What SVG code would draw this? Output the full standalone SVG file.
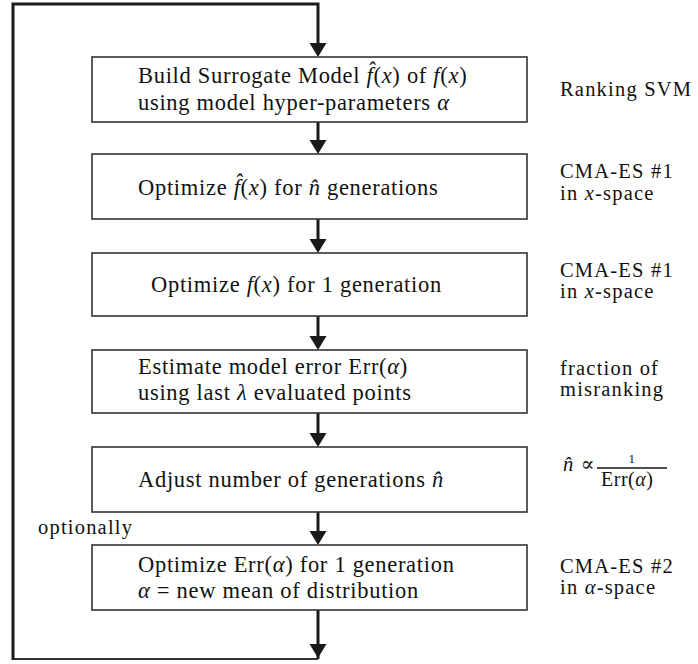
<svg xmlns="http://www.w3.org/2000/svg" width="698" height="664" viewBox="0 0 698 664">
<style>
text{font-family:"Liberation Serif","DejaVu Serif",serif;fill:#111}
.m{font-size:22.5px;letter-spacing:0.7px}
.r{font-size:20.5px;letter-spacing:1.2px}
.i{font-style:italic}
.box{fill:#fff;stroke:#333;stroke-width:1.6}
.ln{fill:none;stroke:#1a1a1a;stroke-width:3}
.hd{fill:#1a1a1a}
</style>
<defs>
<polygon id="ah" points="-8.5,-14 8.5,-14 0,0"/>
</defs>
<g id="connectors">
<path class="ln" d="M318,610 V659"/>
<path class="ln" d="M318,659 H13" style="stroke-width:2.2;stroke:#333"/>
<path class="ln" d="M13,660 V4 H318 V50" style="stroke-linejoin:miter"/>
<path class="ln" d="M318,122 V146"/>
<path class="ln" d="M318,219 V245"/>
<path class="ln" d="M318,316 V342"/>
<path class="ln" d="M318,413 V439"/>
<path class="ln" d="M318,512 V537"/>
<use href="#ah" class="hd" x="318" y="57"/>
<use href="#ah" class="hd" x="318" y="154"/>
<use href="#ah" class="hd" x="318" y="253"/>
<use href="#ah" class="hd" x="318" y="350"/>
<use href="#ah" class="hd" x="318" y="447"/>
<use href="#ah" class="hd" x="318" y="545"/>
<use href="#ah" class="hd" x="318" y="658"/>
</g>
<g id="n1">
<rect class="box" x="92" y="57" width="435" height="65"/>
<text class="m" x="138" y="83">Build Surrogate Model <tspan class="i">f̂</tspan>(<tspan class="i">x</tspan>) of <tspan class="i">f</tspan>(<tspan class="i">x</tspan>)<tspan x="138" y="110">using model hyper-parameters </tspan><tspan class="i">α</tspan></text>
</g>
<g id="n2">
<rect class="box" x="92" y="154" width="435" height="65"/>
<text class="m" x="138" y="195">Optimize <tspan class="i">f̂</tspan>(<tspan class="i">x</tspan>) for <tspan class="i">n̂</tspan> generations</text>
</g>
<g id="n3">
<rect class="box" x="92" y="253" width="435" height="63"/>
<text class="m" x="151" y="292">Optimize <tspan class="i">f</tspan>(<tspan class="i">x</tspan>) for 1 generation</text>
</g>
<g id="n4">
<rect class="box" x="92" y="350" width="435" height="63"/>
<text class="m" x="138" y="374">Estimate model error Err(<tspan class="i">α</tspan>)<tspan x="138" y="400">using last </tspan><tspan class="i">λ</tspan> evaluated points</text>
</g>
<g id="n5">
<rect class="box" x="92" y="447" width="435" height="65"/>
<text class="m" x="138" y="487">Adjust number of generations <tspan class="i">n̂</tspan></text>
</g>
<g id="n6">
<rect class="box" x="92" y="545" width="435" height="65"/>
<text class="m" x="138" y="572">Optimize Err(<tspan class="i">α</tspan>) for 1 generation<tspan x="138" y="598" class="i">α</tspan> = new mean of distribution</text>
</g>
<g id="labels">
<text class="r" x="38" y="534">optionally</text>
<text class="r" x="560" y="96">Ranking SVM</text>
<text class="r" x="560" y="178">CMA-ES #1<tspan x="560" y="200">in </tspan><tspan class="i">x</tspan>-space</text>
<text class="r" x="560" y="277">CMA-ES #1<tspan x="560" y="298">in </tspan><tspan class="i">x</tspan>-space</text>
<text class="r" x="560" y="375">fraction of<tspan x="560" y="396">misranking</tspan></text>
<text class="r" x="563" y="471"><tspan class="i">n̂</tspan> ∝<tspan x="628.5" y="463" style="font-size:13px;letter-spacing:0">1</tspan><tspan x="601" y="486" style="font-size:20px;letter-spacing:0.5px">Err(</tspan><tspan class="i" style="font-size:20px;letter-spacing:0.5px">α</tspan><tspan style="font-size:20px;letter-spacing:0.5px">)</tspan></text>
<line x1="597" y1="468" x2="667" y2="468" stroke="#111" stroke-width="1.6"/>
<text class="r" x="560" y="573">CMA-ES #2<tspan x="560" y="594">in </tspan><tspan class="i">α</tspan>-space</text>
</g>
</svg>
